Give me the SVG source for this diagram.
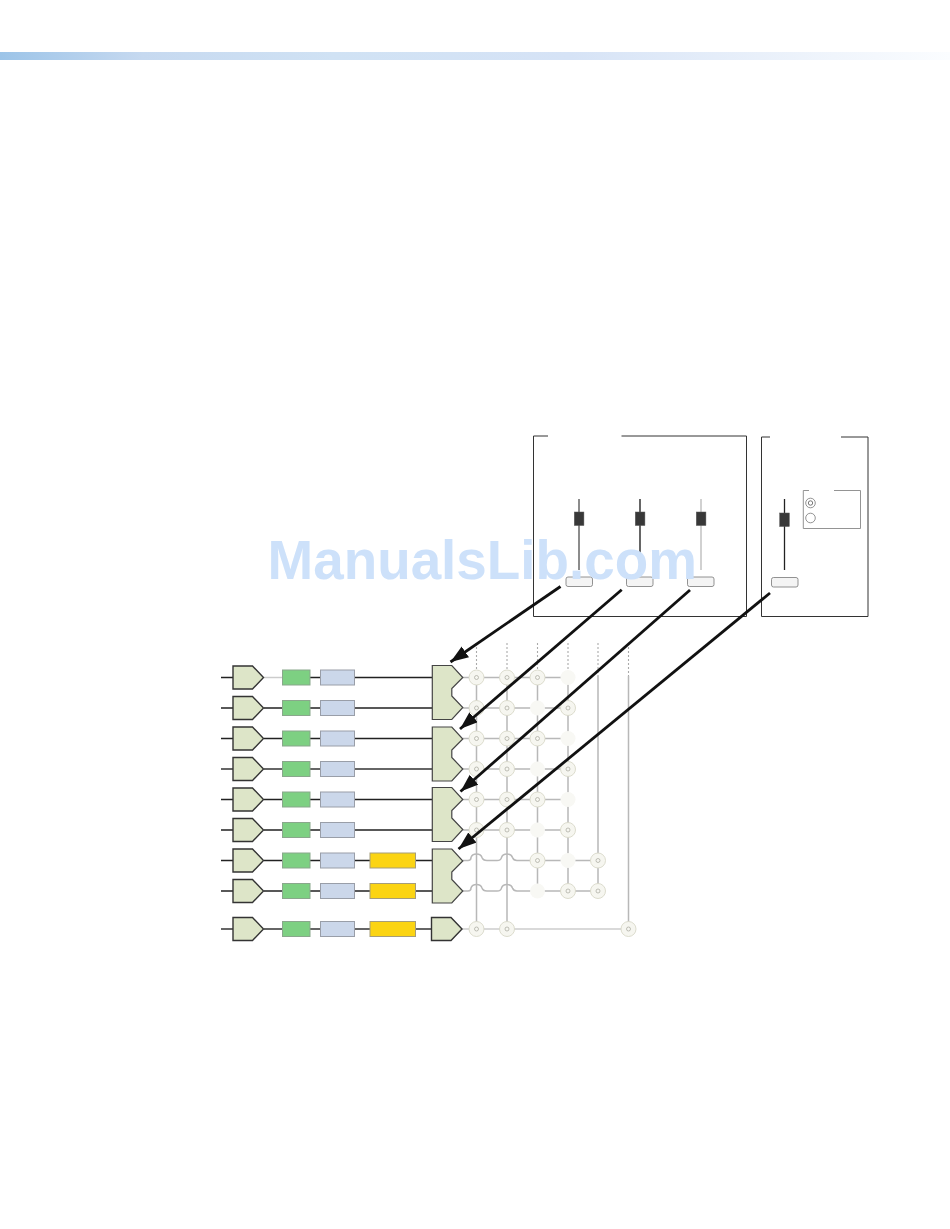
<svg xmlns="http://www.w3.org/2000/svg" xmlns:xlink="http://www.w3.org/1999/xlink" width="950" height="1229" viewBox="0 0 950 1229">
<style>
.sig{stroke:#222;stroke-width:1.5;fill:none}
.sigm{stroke:#666;stroke-width:1.8;fill:none}
.grid{stroke:#b8b8b8;stroke-width:1.5;fill:none}
.dash{stroke:#aaa;stroke-width:1.1;stroke-dasharray:2 2;fill:none}
.pent{fill:#dde5c8;stroke:#333;stroke-width:1.4}
.mux{fill:#dde5c8;stroke:#444;stroke-width:1.2}
.green{fill:#7dd082;stroke:#8aa78c;stroke-width:1}
.blue{fill:#cbd7ea;stroke:#999ea8;stroke-width:1}
.yellow{fill:#fbd413;stroke:#a59d7a;stroke-width:1}
.xp{fill:#f6f6f0;stroke:#d8d8c8;stroke-width:.9}
.xpi{fill:none;stroke:#a8a89c;stroke-width:.7}
.off{fill:#f8f8f4;stroke:none}
.frame{fill:none;stroke:#333;stroke-width:1}
.handle{fill:#383838;stroke:#555;stroke-width:.5}
.btn{fill:#f4f4f4;stroke:#777;stroke-width:.8}
.arrow{stroke:#111;stroke-width:2.8;fill:none;marker-end:url(#ah)}
.wm{font-family:"Liberation Sans",Arial,sans-serif;font-weight:700;font-size:56px;fill:#cde1fa}
</style>
<defs>
<linearGradient id="band" x1="0" y1="0" x2="1" y2="0">
<stop offset="0" stop-color="#9cc4e8"/>
<stop offset=".15" stop-color="#c6d9f0"/>
<stop offset=".35" stop-color="#d0e2f4"/>
<stop offset=".6" stop-color="#d6e3f6"/>
<stop offset=".8" stop-color="#e9f0fa"/>
<stop offset="1" stop-color="#fbfdff"/>
</linearGradient>
<marker id="ah" markerUnits="userSpaceOnUse" markerWidth="20" markerHeight="14" refX="18" refY="6.500" orient="auto">
<path d="M0 0L18 6.500L0 13Z" fill="#111"/>
</marker>
<polygon id="p" class="pent" points="0,-11.500 19.500,-11.500 30.500,0 19.500,11.500 0,11.500"/>
<polygon id="m" class="mux" points="0,0 19.500,0 30.500,12 19.500,23 19.500,30.500 30.500,42 19.500,54 0,54"/>
<g id="x"><circle class="xp" r="7.500"/><circle class="xpi" r="2"/></g>
<circle id="o" class="off" r="7.500"/>
</defs>
<rect id="top-band" x="0" y="52" width="950" height="8" fill="url(#band)"/>

<g id="connectors">
<path class="dash" d="M476.500 643V672M507 643V672M537.500 643V672M568 643V672M598 643V676M628.500 643V676"/>
<path class="grid" d="M476.500 672V929M507 672V929M537.500 672V891M568 672V891M598 676V891M628.500 676V929"/>
<path class="grid" d="M463 677.500H568M463 708H568M463 738.500H568M463 769H568M463 799.500H568M463 830H568"/>
<path class="grid" d="M463 860.500H468Q471 860.500 471 857.500Q472 854 476.500 854Q481 854 482 857.500Q483 860.500 487 860.500H497Q501 860.500 501.500 857.500Q502.500 854 507 854Q511.500 854 512.500 857.500Q513.500 860.500 517 860.500H598"/>
<path class="grid" d="M463 891H468Q471 891 471 888Q472 884.500 476.500 884.500Q481 884.500 482 888Q483 891 487 891H497Q501 891 501.500 888Q502.500 884.500 507 884.500Q511.500 884.500 512.500 888Q513.500 891 517 891H598"/>
<path class="grid" style="stroke:#ccc" d="M462 929H628.500"/>
<path class="sig" d="M221 677.500H233M310 677.500H320M354 677.500H432M264 708H282M221 708H233M310 708H320M354 708H432M221 738.500H233M264 738.500H282M310 738.500H320M354 738.500H432M221 799.500H233M264 799.500H282M310 799.500H320M354 799.500H432M221 830H233M264 830H282M310 830H320M354 830H432M221 860.500H233M264 860.500H282M310 860.500H320M354 860.500H370M416 860.500H432M221 891H233M264 891H282M310 891H320M354 891H370M416 891H432"/>
<path stroke="#ccc" stroke-width="1.500" fill="none" d="M264 677.500H282"/>
<path class="sigm" d="M221 769H233M264 769H282M310 769H320M354 769H432M221 929H233M264 929H282M310 929H320M354 929H370M416 929H431"/>
</g>

<g id="inputs">
<use id="in1" href="#p" x="233" y="677.500"/>
<use id="in2" href="#p" x="233" y="708"/>
<use id="in3" href="#p" x="233" y="738.500"/>
<use id="in4" href="#p" x="233" y="769"/>
<use id="in5" href="#p" x="233" y="799.500"/>
<use id="in6" href="#p" x="233" y="830"/>
<use id="in7" href="#p" x="233" y="860.500"/>
<use id="in8" href="#p" x="233" y="891"/>
<use id="in9" href="#p" x="233" y="929"/>
</g>
<g id="green-blocks">
<rect class="green" x="282.500" y="670" width="27.500" height="15"/>
<rect class="green" x="282.500" y="700.500" width="27.500" height="15"/>
<rect class="green" x="282.500" y="731" width="27.500" height="15"/>
<rect class="green" x="282.500" y="761.500" width="27.500" height="15"/>
<rect class="green" x="282.500" y="792" width="27.500" height="15"/>
<rect class="green" x="282.500" y="822.500" width="27.500" height="15"/>
<rect class="green" x="282.500" y="853" width="27.500" height="15"/>
<rect class="green" x="282.500" y="883.500" width="27.500" height="15"/>
<rect class="green" x="282.500" y="921.500" width="27.500" height="15"/>
</g>
<g id="blue-blocks">
<rect class="blue" x="320.500" y="670" width="34" height="15"/>
<rect class="blue" x="320.500" y="700.500" width="34" height="15"/>
<rect class="blue" x="320.500" y="731" width="34" height="15"/>
<rect class="blue" x="320.500" y="761.500" width="34" height="15"/>
<rect class="blue" x="320.500" y="792" width="34" height="15"/>
<rect class="blue" x="320.500" y="822.500" width="34" height="15"/>
<rect class="blue" x="320.500" y="853" width="34" height="15"/>
<rect class="blue" x="320.500" y="883.500" width="34" height="15"/>
<rect class="blue" x="320.500" y="921.500" width="34" height="15"/>
</g>
<g id="yellow-blocks">
<rect class="yellow" x="370" y="853" width="45.500" height="15"/>
<rect class="yellow" x="370" y="883.500" width="45.500" height="15"/>
<rect class="yellow" x="370" y="921.500" width="45.500" height="15"/>
</g>
<g id="muxes">
<use id="mux1" href="#m" x="432.300" y="665.500"/>
<use id="mux2" href="#m" x="432.300" y="727"/>
<use id="mux3" href="#m" x="432.300" y="787.500"/>
<use id="mux4" href="#m" x="432.300" y="849"/>
<use id="out9" href="#p" x="431.500" y="929"/>
</g>
<g id="crosspoints">
<use href="#x" x="476.500" y="677.500"/><use href="#x" x="507" y="677.500"/><use href="#x" x="537.500" y="677.500"/><use href="#o" x="568" y="677.500"/>
<use href="#x" x="476.500" y="708"/><use href="#x" x="507" y="708"/><use href="#o" x="537.500" y="708"/><use href="#x" x="568" y="708"/>
<use href="#x" x="476.500" y="738.500"/><use href="#x" x="507" y="738.500"/><use href="#x" x="537.500" y="738.500"/><use href="#o" x="568" y="738.500"/>
<use href="#x" x="476.500" y="769"/><use href="#x" x="507" y="769"/><use href="#o" x="537.500" y="769"/><use href="#x" x="568" y="769"/>
<use href="#x" x="476.500" y="799.500"/><use href="#x" x="507" y="799.500"/><use href="#x" x="537.500" y="799.500"/><use href="#o" x="568" y="799.500"/>
<use href="#x" x="476.500" y="830"/><use href="#x" x="507" y="830"/><use href="#o" x="537.500" y="830"/><use href="#x" x="568" y="830"/>
<use href="#x" x="537.500" y="860.500"/><use href="#o" x="568" y="860.500"/><use href="#x" x="598" y="860.500"/>
<use href="#o" x="537.500" y="891"/><use href="#x" x="568" y="891"/><use href="#x" x="598" y="891"/>
<use href="#x" x="476.500" y="929"/><use href="#x" x="507" y="929"/><use href="#x" x="628.500" y="929"/>
</g>

<g id="panel-left">
<path class="frame" d="M548 436H533.500V616.500H746.500V436H621.500"/>
<g id="fader1"><path stroke="#666" stroke-width="1.500" d="M579 499V570"/><rect class="handle" x="574.300" y="512" width="9.600" height="13.500"/><rect class="btn" x="566" y="577" width="26.500" height="9.500" rx="2"/></g>
<g id="fader2"><path stroke="#555" stroke-width="1.800" d="M640 499V570"/><rect class="handle" x="635.300" y="512" width="9.600" height="13.500"/><rect class="btn" x="626.500" y="577" width="26.500" height="9.500" rx="2"/></g>
<g id="fader3"><path stroke="#ccc" stroke-width="1.800" d="M701 499V570"/><rect class="handle" x="696.300" y="512" width="9.600" height="13.500"/><rect class="btn" x="687.500" y="577" width="26.500" height="9.500" rx="2"/></g>
</g>
<g id="panel-right">
<path class="frame" d="M770 437H761.500V616.500H868V437H841"/>
<g id="fader4"><path stroke="#222" stroke-width="1.300" d="M784.500 499V570"/><rect class="handle" x="779.700" y="513" width="9.600" height="13.500"/><rect class="btn" x="771.500" y="577.500" width="26.500" height="9.500" rx="2"/></g>
<g id="selector">
<path fill="none" stroke="#888" stroke-width=".9" d="M809 490.500H803.300V528.500H860.500V490.500H834"/>
<circle cx="810.500" cy="503" r="4.800" fill="#fff" stroke="#666" stroke-width=".7"/>
<circle cx="810.500" cy="503" r="2.200" fill="#fff" stroke="#555" stroke-width=".8"/>
<circle cx="810.500" cy="518" r="4.800" fill="#fff" stroke="#666" stroke-width=".7"/>
</g>
</g>

<g id="arrows">
<path class="arrow" d="M560.500 586.500L450.500 662"/>
<path class="arrow" d="M621.700 589.700L460 729"/>
<path class="arrow" d="M690 590L460.500 791.500"/>
<path class="arrow" d="M770 593L458.500 849"/>
</g>
<text class="wm" x="267.500" y="579" textLength="429.500" lengthAdjust="spacingAndGlyphs">ManualsLib.com</text>
</svg>
